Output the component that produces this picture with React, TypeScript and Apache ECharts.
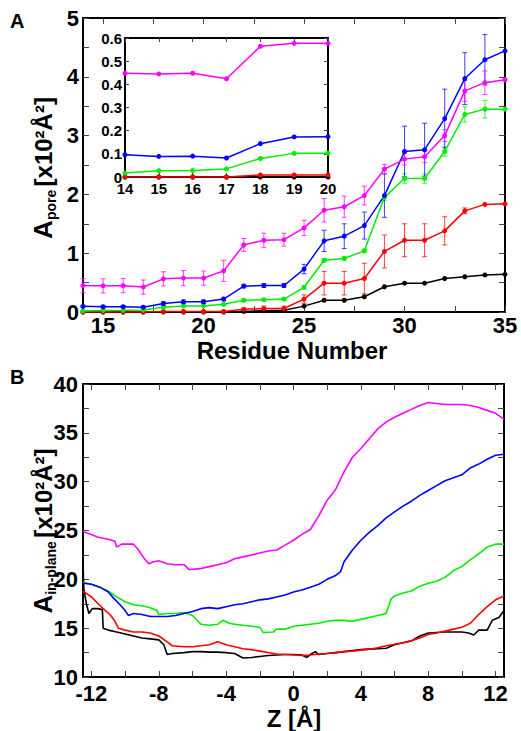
import React, { useEffect, useRef } from "react";
import * as echarts from "echarts";

const FONT = '"Liberation Sans", Arial, Helvetica, sans-serif';

// ---------- Panel A data ----------
const residues = [14, 15, 16, 17, 18, 19, 20, 21, 22, 23, 24, 25, 26, 27, 28, 29, 30, 31, 32, 33, 34, 35];
const poreMagenta = [0.448, 0.445, 0.448, 0.424, 0.564, 0.577, 0.577, 0.70, 1.14, 1.22, 1.23, 1.43, 1.73, 1.79, 1.98, 2.43, 2.60, 2.64, 3.00, 3.76, 3.90, 3.95];
const poreBlue = [0.096, 0.089, 0.090, 0.082, 0.144, 0.173, 0.174, 0.22, 0.44, 0.45, 0.45, 0.73, 1.21, 1.29, 1.47, 1.98, 2.73, 2.76, 3.29, 3.97, 4.29, 4.44];
const poreGreen = [0.017, 0.027, 0.028, 0.035, 0.080, 0.102, 0.103, 0.13, 0.20, 0.21, 0.22, 0.42, 0.88, 0.91, 1.04, 1.95, 2.27, 2.27, 2.73, 3.36, 3.45, 3.45];
const poreRed = [0, 0, 0, 0, 0.009, 0.009, 0.009, 0.01, 0.045, 0.06, 0.06, 0.22, 0.49, 0.49, 0.57, 1.03, 1.22, 1.22, 1.38, 1.72, 1.83, 1.84];
const poreBlack = [0, 0, 0, 0, 0, 0, 0, 0, 0.01, 0.02, 0.03, 0.10, 0.20, 0.20, 0.26, 0.43, 0.49, 0.49, 0.57, 0.60, 0.63, 0.64];

const errMagenta = [0.12, 0.12, 0.12, 0.12, 0.12, 0.13, 0.12, 0.18, 0.11, 0.12, 0.11, 0.13, 0.2, 0.18, 0.16, 0.08, 0.1, 0.1, 0.1, 0.18, 0.2, 0];
const errBlue = [0.02, 0.02, 0.02, 0.02, 0.03, 0.03, 0.03, 0.03, 0.03, 0.03, 0.03, 0.08, 0.18, 0.21, 0.23, 0.37, 0.43, 0.45, 0.5, 0.44, 0.43, 0];
const errGreen = [0, 0, 0, 0, 0.01, 0.01, 0.01, 0.01, 0.02, 0.02, 0.02, 0.03, 0.03, 0.03, 0.03, 0.05, 0.08, 0.08, 0.08, 0.13, 0.15, 0];
const errRed = [0, 0, 0, 0, 0, 0, 0, 0, 0.02, 0.04, 0.04, 0.07, 0.2, 0.2, 0.26, 0.28, 0.28, 0.28, 0.24, 0.05, 0, 0];

const insetCount = 7; // residues 14..20

const aXLabels = [15, 20, 25, 30, 35];
const aXTicks = [15, 17.5, 20, 22.5, 25, 27.5, 30, 32.5, 35];
const aYLabels = [0, 1, 2, 3, 4, 5];
const aYTicks = [0, 0.5, 1, 1.5, 2, 2.5, 3, 3.5, 4, 4.5, 5];
const insetXLabels = [14, 15, 16, 17, 18, 19, 20];
const insetYLabels = [0, 0.1, 0.2, 0.3, 0.4, 0.5, 0.6];

// ---------- Panel B data ([Z, A_in-plane]) ----------
const planeMagenta = [[-12.5, 24.9], [-12.0, 24.6], [-11.6, 24.3], [-11.0, 24.1], [-10.6, 23.9], [-10.5, 23.3], [-10.2, 23.6], [-9.5, 23.6], [-9.2, 23.0], [-8.9, 22.2], [-8.6, 21.6], [-8.3, 21.8], [-8.0, 21.9], [-7.5, 21.6], [-7.0, 21.5], [-6.5, 21.5], [-6.2, 21.0], [-5.5, 21.1], [-5.0, 21.3], [-4.5, 21.5], [-4.0, 21.7], [-3.5, 22.1], [-3.0, 22.3], [-2.5, 22.5], [-2.0, 22.7], [-1.5, 22.9], [-1.0, 23.0], [-0.5, 23.5], [0.0, 24.0], [0.5, 24.6], [1.0, 25.1], [1.5, 26.5], [2.0, 28.1], [2.5, 29.2], [3.0, 31.0], [3.5, 32.5], [4.0, 33.4], [4.5, 34.4], [5.0, 35.4], [5.5, 36.1], [6.0, 36.6], [6.5, 37.0], [7.0, 37.4], [7.5, 37.8], [8.0, 38.1], [8.5, 38.0], [9.0, 37.9], [9.5, 37.9], [10.0, 37.9], [10.5, 37.8], [11.0, 37.6], [11.5, 37.3], [12.0, 37.0], [12.5, 36.4]];
const planeBlue = [[-12.5, 19.6], [-12.0, 19.5], [-11.5, 19.2], [-11.0, 18.7], [-10.7, 18.1], [-10.3, 17.4], [-10.0, 16.8], [-9.8, 16.3], [-9.5, 16.5], [-9.0, 16.4], [-8.5, 16.2], [-8.0, 16.2], [-7.5, 16.2], [-7.0, 16.3], [-6.5, 16.5], [-6.0, 16.7], [-5.5, 17.0], [-5.0, 17.1], [-4.5, 17.0], [-4.0, 17.2], [-3.5, 17.4], [-3.0, 17.5], [-2.5, 17.7], [-2.0, 17.9], [-1.5, 18.0], [-1.0, 18.2], [-0.5, 18.4], [0.0, 18.7], [0.5, 18.9], [1.0, 19.2], [1.5, 19.5], [2.0, 20.0], [2.5, 20.4], [2.8, 20.8], [3.0, 21.8], [3.5, 23.0], [4.0, 24.0], [4.5, 24.8], [5.0, 25.5], [5.5, 26.3], [6.0, 26.9], [6.5, 27.5], [7.0, 28.0], [7.5, 28.6], [8.0, 29.1], [8.5, 29.6], [9.0, 30.1], [9.5, 30.4], [10.0, 30.7], [10.5, 31.4], [11.0, 31.8], [11.5, 32.3], [12.0, 32.7], [12.5, 32.8]];
const planeGreen = [[-12.5, 19.7], [-12.0, 19.5], [-11.5, 19.2], [-11.0, 18.8], [-10.5, 18.2], [-10.0, 17.7], [-9.5, 17.4], [-9.0, 17.3], [-8.5, 17.1], [-8.1, 16.8], [-8.0, 16.4], [-7.5, 16.5], [-7.0, 16.5], [-6.5, 16.6], [-6.0, 16.3], [-5.5, 15.4], [-5.0, 15.3], [-4.5, 15.4], [-4.2, 15.8], [-3.8, 15.5], [-3.5, 15.4], [-3.0, 15.3], [-2.5, 15.2], [-2.0, 15.1], [-1.8, 14.55], [-1.2, 14.6], [-1.0, 14.9], [-0.5, 14.9], [0.0, 15.2], [0.5, 15.3], [1.0, 15.4], [1.5, 15.5], [2.0, 15.7], [2.5, 15.8], [3.0, 15.8], [3.5, 15.7], [4.0, 15.9], [4.5, 16.1], [5.0, 16.3], [5.5, 16.5], [5.8, 18.0], [6.0, 18.3], [6.5, 18.6], [7.0, 18.8], [7.5, 19.3], [8.0, 19.6], [8.5, 19.8], [9.0, 20.2], [9.5, 20.9], [10.0, 21.3], [10.5, 22.0], [11.0, 22.6], [11.5, 23.3], [12.0, 23.6], [12.5, 23.6]];
const planeRed = [[-12.5, 18.8], [-12.0, 18.2], [-11.6, 17.5], [-11.3, 17.0], [-10.9, 16.4], [-10.6, 15.7], [-10.4, 15.0], [-10.0, 14.8], [-9.5, 14.6], [-9.0, 14.6], [-8.5, 14.5], [-8.0, 14.2], [-7.5, 13.6], [-7.2, 13.2], [-6.5, 13.1], [-6.0, 13.1], [-5.5, 13.2], [-5.0, 13.3], [-4.5, 13.6], [-4.0, 13.3], [-3.5, 13.1], [-3.0, 12.9], [-2.5, 12.8], [-2.0, 12.65], [-1.5, 12.5], [-1.0, 12.35], [-0.5, 12.3], [0.0, 12.25], [0.5, 12.2], [1.0, 12.25], [1.5, 12.35], [2.0, 12.4], [2.5, 12.5], [3.0, 12.6], [3.5, 12.65], [4.0, 12.75], [4.5, 12.85], [5.0, 13.0], [5.5, 13.2], [6.0, 13.35], [6.5, 13.5], [7.0, 13.7], [7.5, 14.0], [8.0, 14.35], [8.5, 14.5], [9.0, 14.7], [9.5, 14.9], [10.0, 15.1], [10.5, 15.5], [11.0, 16.4], [11.5, 17.2], [12.0, 17.9], [12.5, 18.3]];
const planeBlack = [[-12.5, 21.5], [-12.45, 19.0], [-12.3, 17.5], [-12.15, 16.5], [-11.95, 17.0], [-11.6, 17.0], [-11.35, 16.9], [-11.3, 15.0], [-11.0, 14.8], [-10.5, 14.6], [-10.0, 14.4], [-9.5, 14.2], [-9.0, 14.0], [-8.5, 13.9], [-8.0, 13.8], [-7.7, 13.3], [-7.5, 12.3], [-7.2, 12.4], [-6.5, 12.5], [-6.0, 12.6], [-5.5, 12.6], [-5.0, 12.55], [-4.5, 12.55], [-4.0, 12.5], [-3.5, 12.4], [-3.0, 11.95], [-2.5, 12.0], [-2.0, 12.1], [-1.5, 12.2], [-1.0, 12.25], [-0.5, 12.3], [0.0, 12.3], [0.5, 12.25], [0.8, 12.0], [1.0, 12.3], [1.3, 12.6], [1.5, 12.3], [2.0, 12.4], [2.5, 12.5], [3.0, 12.6], [3.5, 12.7], [4.0, 12.8], [4.5, 12.85], [5.0, 12.9], [5.5, 12.95], [6.0, 13.3], [6.5, 13.5], [7.0, 13.7], [7.5, 14.2], [8.0, 14.5], [8.5, 14.55], [9.0, 14.6], [9.5, 14.6], [10.0, 14.6], [10.4, 14.5], [10.7, 14.3], [11.0, 14.8], [11.5, 14.8], [11.8, 15.8], [12.2, 16.1], [12.5, 16.8]];

const bXLabels = [-12, -8, -4, 0, 4, 8, 12];
const bXTicks = [-12, -10, -8, -6, -4, -2, 0, 2, 4, 6, 8, 10, 12];
const bYLabels = [10, 15, 20, 25, 30, 35, 40];
const bYTicks = [10, 12.5, 15, 17.5, 20, 22.5, 25, 27.5, 30, 32.5, 35, 37.5, 40];

const MAGENTA = "#ff00ff";
const BLUE = "#0000ff";
const GREEN = "#00ee00";
const RED = "#ff0000";
const BLACK = "#000000";

function axis(
  kind: "x" | "y",
  gridIndex: number,
  position: string,
  min: number,
  max: number,
  ticks: number[],
  labels: number[] | null,
  fontSize: number,
  tickLen: number,
  margin: number,
  fmt?: (v: number) => string
) {
  const label: any = labels
    ? {
        show: true,
        customValues: labels,
        fontSize,
        fontWeight: "bold",
        fontFamily: FONT,
        color: "#000",
        margin,
      }
    : { show: false };
  if (labels && fmt) label.formatter = fmt;
  return {
    type: "value",
    gridIndex,
    position,
    min,
    max,
    axisLine: { show: true, onZero: false, lineStyle: { color: "#000", width: 2 } },
    axisTick: { show: true, inside: true, length: tickLen, customValues: ticks, lineStyle: { color: "#444", width: 1 } },
    axisLabel: label,
    splitLine: { show: false },
    minorTick: { show: false },
  };
}

function lineA(data: number[], color: string, xi: number, yi: number, count?: number) {
  const n = count ?? residues.length;
  return {
    type: "line",
    xAxisIndex: xi,
    yAxisIndex: yi,
    data: residues.slice(0, n).map((r, i) => [r, data[i]]),
    symbol: "circle",
    symbolSize: 5,
    showSymbol: true,
    itemStyle: { color },
    lineStyle: { color, width: 1.5 },
    z: 3,
    silent: true,
  };
}

function errA(data: number[], errs: number[], color: string) {
  return {
    type: "custom",
    xAxisIndex: 0,
    yAxisIndex: 0,
    silent: true,
    z: 2,
    encode: { x: 0, y: [1, 2] },
    data: residues
      .map((r, i) => [r, data[i] - errs[i], data[i] + errs[i], errs[i]])
      .filter((d) => d[3] > 0),
    renderItem: (_params: any, api: any) => {
      const x = api.value(0);
      const lo = api.coord([x, api.value(1)]);
      const hi = api.coord([x, api.value(2)]);
      const st = { stroke: color, lineWidth: 1, opacity: 0.75 };
      return {
        type: "group",
        children: [
          { type: "line", shape: { x1: lo[0], y1: lo[1], x2: hi[0], y2: hi[1] }, style: st },
          { type: "line", shape: { x1: lo[0] - 2.5, y1: lo[1], x2: lo[0] + 2.5, y2: lo[1] }, style: st },
          { type: "line", shape: { x1: hi[0] - 2.5, y1: hi[1], x2: hi[0] + 2.5, y2: hi[1] }, style: st },
        ],
      };
    },
  };
}

function lineB(data: number[][], color: string) {
  return {
    type: "line",
    xAxisIndex: 4,
    yAxisIndex: 4,
    data,
    showSymbol: false,
    symbol: "none",
    lineStyle: { color, width: 1.6 },
    z: 3,
    silent: true,
  };
}

const insetFmt = (v: number) => (v === 0 ? "0" : v.toFixed(1));

const titleRich = {
  a: { fontSize: 26, fontWeight: "bold", fontFamily: FONT, fill: "#000", lineHeight: 30, verticalAlign: "middle" },
  s: { fontSize: 14, fontWeight: "bold", fontFamily: FONT, fill: "#000", lineHeight: 14, verticalAlign: "bottom" },
  b: { fontSize: 24, fontWeight: "bold", fontFamily: FONT, fill: "#000", lineHeight: 30, verticalAlign: "middle" },
};

const option: any = {
  animation: false,
  backgroundColor: "#ffffff",
  grid: [
    { left: 83, top: 18, width: 422, height: 294, containLabel: false },
    { left: 125, top: 38, width: 203, height: 139, show: true, backgroundColor: "#ffffff", borderWidth: 0, z: 5 },
    { left: 83, top: 384, width: 421, height: 293 },
  ],
  xAxis: [
    axis("x", 0, "bottom", 14, 35, aXTicks, aXLabels, 22, 6, 2),
    axis("x", 0, "top", 14, 35, aXTicks, null, 22, 6, 4),
    { ...axis("x", 1, "bottom", 14, 20, insetXLabels, insetXLabels, 15, 4, 4), z: 6 },
    { ...axis("x", 1, "top", 14, 20, insetXLabels, null, 15, 4, 3), z: 6 },
    axis("x", 2, "bottom", -12.5, 12.5, bXTicks, bXLabels, 22, 6, 5),
    axis("x", 2, "top", -12.5, 12.5, bXTicks, null, 22, 6, 5),
  ],
  yAxis: [
    axis("y", 0, "left", 0, 5, aYTicks, aYLabels, 22, 6, 4),
    axis("y", 0, "right", 0, 5, aYTicks, null, 22, 6, 4),
    { ...axis("y", 1, "left", 0, 0.6, insetYLabels, insetYLabels, 15, 4, 3, insetFmt), z: 6 },
    { ...axis("y", 1, "right", 0, 0.6, insetYLabels, null, 15, 4, 3), z: 6 },
    axis("y", 2, "left", 10, 40, bYTicks, bYLabels, 22, 6, 5),
    axis("y", 2, "right", 10, 40, bYTicks, null, 22, 6, 5),
  ],
  series: [
    errA(poreRed, errRed, RED),
    errA(poreGreen, errGreen, GREEN),
    errA(poreBlue, errBlue, BLUE),
    errA(poreMagenta, errMagenta, MAGENTA),
    lineA(poreBlack, BLACK, 0, 0),
    lineA(poreRed, RED, 0, 0),
    lineA(poreGreen, GREEN, 0, 0),
    lineA(poreBlue, BLUE, 0, 0),
    lineA(poreMagenta, MAGENTA, 0, 0),
    { ...lineA(poreBlack, BLACK, 2, 2, insetCount), z: 7 },
    { ...lineA(poreRed, RED, 2, 2, insetCount), z: 7 },
    { ...lineA(poreGreen, GREEN, 2, 2, insetCount), z: 7 },
    { ...lineA(poreBlue, BLUE, 2, 2, insetCount), z: 7 },
    { ...lineA(poreMagenta, MAGENTA, 2, 2, insetCount), z: 7 },
    lineB(planeBlack, BLACK),
    lineB(planeRed, RED),
    lineB(planeGreen, GREEN),
    lineB(planeBlue, BLUE),
    lineB(planeMagenta, MAGENTA),
  ],
  graphic: [
    {
      type: "text",
      left: 10,
      top: 11,
      style: { text: "A", fontSize: 20, fontWeight: "bold", fontFamily: FONT, fill: "#000" },
    },
    {
      type: "text",
      left: 10,
      top: 367,
      style: { text: "B", fontSize: 20, fontWeight: "bold", fontFamily: FONT, fill: "#000" },
    },
    {
      type: "text",
      x: 292,
      y: 350,
      style: {
        text: "Residue Number",
        fontSize: 24,
        fontWeight: "bold",
        fontFamily: FONT,
        fill: "#000",
        align: "center",
        verticalAlign: "middle",
      },
    },
    {
      type: "text",
      x: 294,
      y: 718,
      style: {
        text: "Z [Å]",
        fontSize: 24,
        fontWeight: "bold",
        fontFamily: FONT,
        fill: "#000",
        align: "center",
        verticalAlign: "middle",
      },
    },
    {
      type: "text",
      x: 43,
      y: 168,
      rotation: Math.PI / 2,
      style: {
        text: "{a|A}{s|pore} {b|[x10²Å²]}",
        rich: titleRich,
        align: "center",
        verticalAlign: "middle",
      },
    },
    {
      type: "text",
      x: 43,
      y: 531,
      rotation: Math.PI / 2,
      style: {
        text: "{a|A}{s|in-plane} {b|[x10²Å²]}",
        rich: titleRich,
        align: "center",
        verticalAlign: "middle",
      },
    },
  ],
};

export default function App() {
  const ref = useRef<HTMLDivElement>(null);
  useEffect(() => {
    if (!ref.current) return;
    const chart = echarts.init(ref.current, null, { renderer: "svg" });
    chart.setOption(option);
    return () => chart.dispose();
  }, []);
  return (
    <div
      ref={ref}
      style={{ position: "fixed", left: 0, top: 0, width: 521, height: 731, background: "#fff" }}
    />
  );
}
